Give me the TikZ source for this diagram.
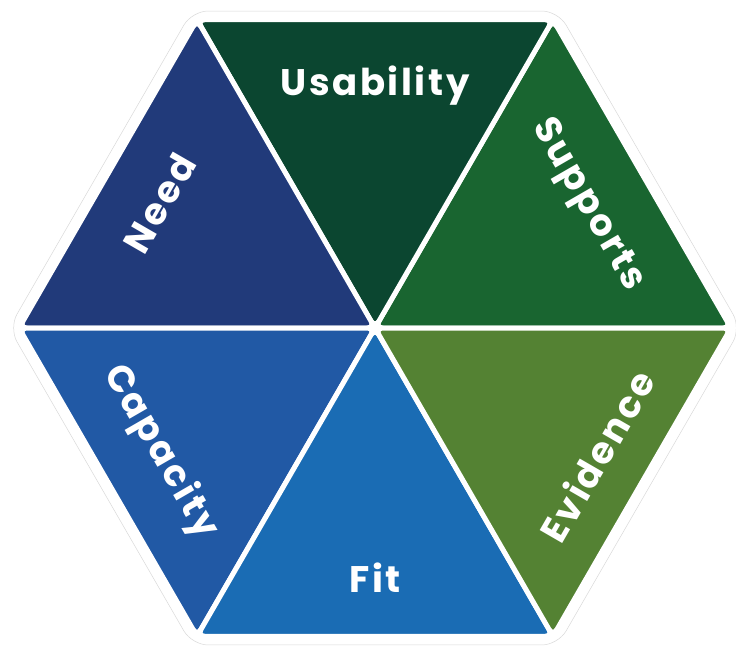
\documentclass[tikz,border=0pt]{standalone}
\usepackage{fontspec}
\setmainfont{Poppins}
\newfontfamily\segfont{Poppins}[LetterSpace=7]
\usepackage{tikz}
\usetikzlibrary{positioning,calc}

\definecolor{supports}{HTML}{196530}
\definecolor{usability}{HTML}{0B4630}
\definecolor{need}{HTML}{213A7A}
\definecolor{capacity}{HTML}{2159A5}
\definecolor{fit}{HTML}{1A6CB4}
\definecolor{evidence}{HTML}{548233}

\tikzset{
    frame/.style={fill=white, draw=black!15, line width=0.5pt, rounded corners=16pt},
    segment/.style={fill=#1, draw=white, line width=5pt, rounded corners=8pt},
    seglabel/.style={text=white, inner sep=0pt, font=\segfont\bfseries\fontsize{37}{37}\selectfont}
}

\begin{document}
\begin{tikzpicture}[x=1pt, y=1pt]
    \useasboundingbox (-375,-320) rectangle (361,328);

    % Outer frame
    \draw[frame] (0:366) -- (60:366) -- (120:366) -- (180:366) -- (240:366) -- (300:366) -- cycle;

    % Segments
    \foreach \a/\col/\txt/\r/\rot in {0/supports/Supports/245/-60, 60/usability/Usability/242/0,
        120/need/Need/249/60, 180/capacity/Capacity/248/-60, 240/fit/Fit/250/0, 300/evidence/Evidence/256/60} {
        \draw[segment=\col] (0,0) -- (\a:356) -- (\a+60:356) -- cycle;
        \node[seglabel, rotate=\rot] (\col) at (\a+30:\r) {\txt};
    }
\end{tikzpicture}
\end{document}
